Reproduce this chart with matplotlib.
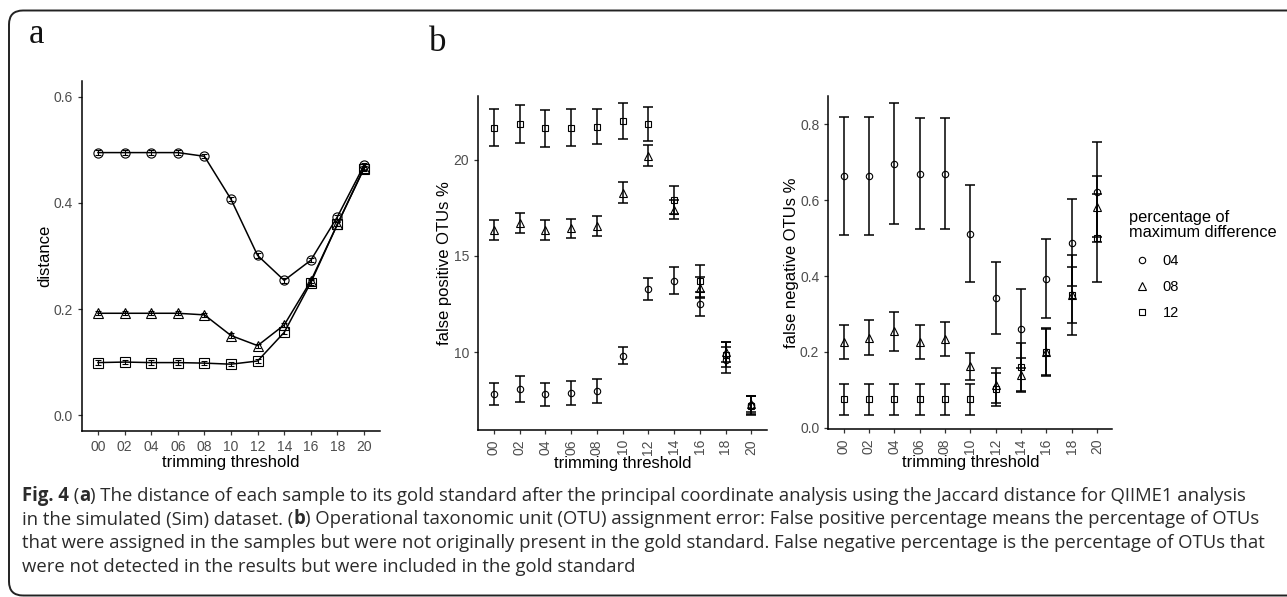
import matplotlib
matplotlib.use("Agg")
import matplotlib.pyplot as plt
from matplotlib.patches import FancyBboxPatch
from matplotlib.transforms import IdentityTransform
import numpy as np

# ---------------- data ----------------
thresholds = ['00', '02', '04', '06', '08', '10', '12', '14', '16', '18', '20']
groups = ['04', '08', '12']
legend_title = 'percentage of\nmaximum difference'

# panel a: distance to gold standard
dist_04 = [0.495, 0.495, 0.495, 0.495, 0.488, 0.407, 0.301, 0.254, 0.292, 0.374, 0.471]
dist_08 = [0.192, 0.192, 0.192, 0.192, 0.189, 0.150, 0.131, 0.170, 0.253, 0.360, 0.466]
dist_12 = [0.099, 0.100, 0.099, 0.099, 0.098, 0.096, 0.102, 0.156, 0.250, 0.360, 0.465]
dist_err = [0.004, 0.004, 0.004, 0.004, 0.004, 0.004, 0.004, 0.004, 0.004, 0.004, 0.004]

# panel b left: false positive OTUs %
fp_04 = [7.81, 8.06, 7.81, 7.88, 7.97, 9.81, 13.28, 13.71, 12.52, 9.58, 7.24]
fp_04_err = [0.59, 0.68, 0.60, 0.62, 0.62, 0.43, 0.57, 0.71, 0.62, 0.69, 0.45]
fp_08 = [16.35, 16.70, 16.35, 16.44, 16.58, 18.30, 20.21, 17.40, 13.35, 10.00, 7.30]
fp_08_err = [0.52, 0.52, 0.52, 0.50, 0.52, 0.55, 0.55, 0.50, 0.55, 0.50, 0.42]
fp_12 = [21.68, 21.88, 21.65, 21.68, 21.74, 22.03, 21.88, 17.92, 13.71, 9.86, 7.20]
fp_12_err = [0.95, 1.00, 0.95, 0.95, 0.93, 0.95, 0.87, 0.74, 0.82, 0.64, 0.50]

# panel b right: false negative OTUs %
fn_04 = [0.664, 0.664, 0.696, 0.670, 0.670, 0.512, 0.342, 0.261, 0.393, 0.488, 0.621]
fn_04_err = [0.156, 0.156, 0.160, 0.147, 0.147, 0.128, 0.094, 0.104, 0.104, 0.115, 0.131]
fn_08 = [0.225, 0.237, 0.254, 0.225, 0.234, 0.162, 0.112, 0.138, 0.200, 0.350, 0.583]
fn_08_err = [0.045, 0.046, 0.051, 0.045, 0.045, 0.036, 0.046, 0.045, 0.060, 0.075, 0.080]
fn_12 = [0.075, 0.075, 0.075, 0.075, 0.075, 0.075, 0.101, 0.160, 0.200, 0.350, 0.500]
fn_12_err = [0.040, 0.040, 0.040, 0.040, 0.040, 0.040, 0.043, 0.063, 0.063, 0.105, 0.115]

caption_lines = [
    [("Fig. 4", True), (" (", False), ("a", True),
     (") The distance of each sample to its gold standard after the principal coordinate analysis using the Jaccard distance for QIIME1 analysis", False)],
    [("in the simulated (Sim) dataset. (", False), ("b", True),
     (") Operational taxonomic unit (OTU) assignment error: False positive percentage means the percentage of OTUs", False)],
    [("that were assigned in the samples but were not originally present in the gold standard. False negative percentage is the percentage of OTUs that", False)],
    [("were not detected in the results but were included in the gold standard", False)],
]

# ---------------- style ----------------
W, H = 1287, 597
plt.rcParams['font.family'] = ['Liberation Sans', 'DejaVu Sans']
fig = plt.figure(figsize=(W / 100, H / 100), dpi=100)
fig.patch.set_facecolor('white')

markers = {'04': 'o', '08': '^', '12': 's'}
TICK_COLOR = '#4d4d4d'


def style_axes(ax):
    for s in ['top', 'right']:
        ax.spines[s].set_visible(False)
    for s in ['left', 'bottom']:
        ax.spines[s].set_color('black')
        ax.spines[s].set_linewidth(1.1)
    ax.tick_params(axis='both', colors='#333333', labelcolor=TICK_COLOR,
                   length=3, width=0.9, labelsize=10)


def px_axes(l, r, t, b):
    return fig.add_axes([l / W, 1 - b / H, (r - l) / W, (b - t) / H])


x = np.arange(len(thresholds))

# ---------------- panel a ----------------
axa = px_axes(82, 380, 81, 431)
style_axes(axa)
msz = {'04': 6.6, '08': 7.8, '12': 6.6}
for g, vals in zip(groups, [dist_04, dist_08, dist_12]):
    axa.plot(x, vals, color='black', lw=1.1, zorder=2)
    axa.errorbar(x, vals, yerr=dist_err, fmt='none', ecolor='black', elinewidth=0.8,
                 capsize=2.5, capthick=0.8, zorder=3)
    axa.plot(x, vals, linestyle='none', marker=markers[g], markersize=msz[g],
             markerfacecolor='none', markeredgecolor='black', markeredgewidth=0.8, zorder=4)
axa.set_xlim(-0.6, len(thresholds) - 0.4)
axa.set_ylim(-0.03, 0.63)
axa.set_yticks([0.0, 0.2, 0.4, 0.6])
axa.set_yticklabels(['0.0', '0.2', '0.4', '0.6'])
axa.set_xticks(x)
axa.set_xticklabels(thresholds)
axa.set_xlabel('trimming threshold', fontsize=12, labelpad=1)
axa.set_ylabel('distance', fontsize=12, labelpad=1)

# ---------------- panel b, errorbar plots ----------------
def err_panel(ax, series):
    style_axes(ax)
    for g, (vals, errs) in zip(groups, series):
        ax.errorbar(x, vals, yerr=errs, fmt='none', ecolor='black', elinewidth=1.1,
                    capsize=3.5, capthick=1.1, zorder=3)
        ax.plot(x, vals, linestyle='none', marker=markers[g],
                markersize=4.6 if g != '08' else 5.2,
                markerfacecolor='none', markeredgecolor='black', markeredgewidth=0.8, zorder=4)
    ax.set_xlim(-0.6, len(thresholds) - 0.4)
    ax.set_xticks(x)
    ax.set_xticklabels(thresholds, rotation=90)
    ax.set_xlabel('trimming threshold', fontsize=12, labelpad=1)


axb1 = px_axes(478.3, 766.7, 96, 430)
err_panel(axb1, [(fp_04, fp_04_err), (fp_08, fp_08_err), (fp_12, fp_12_err)])
axb1.set_ylim(5.94, 23.33)
axb1.set_yticks([10, 15, 20])
axb1.set_ylabel('false positive OTUs %', fontsize=12, labelpad=1)

axb2 = px_axes(828.3, 1112.3, 96, 429.3)
err_panel(axb2, [(fn_04, fn_04_err), (fn_08, fn_08_err), (fn_12, fn_12_err)])
axb2.set_ylim(-0.004, 0.8745)
axb2.set_yticks([0.0, 0.2, 0.4, 0.6, 0.8])
axb2.set_yticklabels(['0.0', '0.2', '0.4', '0.6', '0.8'])
axb2.set_ylabel('false negative OTUs %', fontsize=12, labelpad=1)

# legend: title as text, entries as a title-less legend
fig.text(1129 / W, 1 - 225 / H, legend_title, fontsize=11.8, ha='left', va='center',
         linespacing=1.05, color='black')
handles = [plt.Line2D([], [], linestyle='none', marker=markers[g],
                      markersize=4.6 if g != '08' else 5.2, markerfacecolor='none',
                      markeredgecolor='black', markeredgewidth=0.8) for g in groups]
leg = fig.legend(handles, groups, loc='upper left',
                 bbox_to_anchor=(1133 / W, 1 - 254 / H),
                 frameon=False, fontsize=10.5,
                 handlelength=1.2, handletextpad=0.83, labelspacing=0.83,
                 borderaxespad=0, borderpad=0)

# ---------------- panel labels ----------------
fig.text(29 / W, 1 - 43 / H, 'a', fontsize=25, family=['Liberation Serif', 'DejaVu Serif'],
         va='baseline', ha='left', color='#111111')
fig.text(429 / W, 1 - 51 / H, 'b', fontsize=25, family=['Liberation Serif', 'DejaVu Serif'],
         va='baseline', ha='left', color='#111111')

# ---------------- frame ----------------
frame = FancyBboxPatch((9, 1.5), 1300, 585, boxstyle='round,pad=0,rounding_size=14',
                       transform=IdentityTransform(), facecolor='none',
                       edgecolor='#222222', linewidth=1.4, clip_on=False)
fig.patches.append(frame)

# ---------------- caption ----------------
renderer = fig.canvas.get_renderer()
baselines = [500.7, 524.5, 548.2, 571.9]
line_right = [1247, None, 1275, None]
cap_family = ['Open Sans', 'DejaVu Sans']


def draw_line(line, yb, size, draw=True):
    xpos = 22.0
    created = []
    for txt, bold in line:
        t = fig.text(xpos / W, 1 - yb / H, txt, fontweight='bold' if bold else 'normal',
                     fontsize=size, family=cap_family, color='#2b2b2b',
                     va='baseline', ha='left')
        bb = t.get_window_extent(renderer=renderer)
        xpos = bb.x1
        created.append(t)
    if not draw:
        for t in created:
            t.remove()
    return xpos


base_size = 14.0
scales = []
for line, yb, xr in zip(caption_lines, baselines, line_right):
    if xr is not None:
        end = draw_line(line, yb, base_size, draw=False)
        scales.append((xr - 22.0) / (end - 22.0))
cap_size = base_size * float(np.mean(scales))
for line, yb in zip(caption_lines, baselines):
    draw_line(line, yb, cap_size)

fig.savefig('out.png', dpi=100, facecolor='white')
